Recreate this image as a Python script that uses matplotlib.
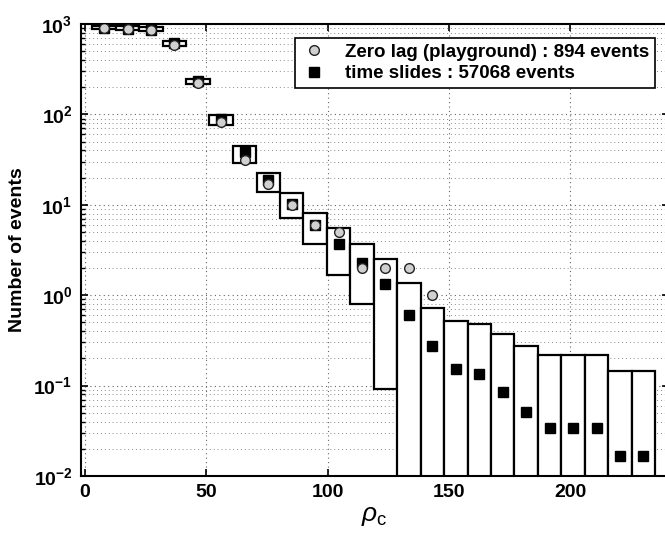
import numpy as np
import matplotlib.pyplot as plt
from matplotlib.ticker import LogLocator, FixedLocator, FuncFormatter

plt.rcParams['font.family'] = ['Liberation Sans', 'DejaVu Sans']
plt.rcParams['mathtext.fontset'] = 'custom'
plt.rcParams['mathtext.rm'] = 'Liberation Sans'
plt.rcParams['mathtext.bf'] = 'Liberation Sans:bold'
plt.rcParams['mathtext.it'] = 'Liberation Sans:italic'

# bin centres in rho_c (cumulative counts, events above each value)
rho_bins = [7.8, 17.5, 27.1, 36.8, 46.5, 56.1, 65.8, 75.5, 85.1, 94.8, 104.5, 114.1,
            123.8, 133.5, 143.1, 152.8, 162.5, 172.1, 181.8, 191.5, 201.1, 210.8,
            220.5, 230.1]
bin_width = 9.67

# zero lag (playground) counts, only first bins have events
zero_lag = [894, 880, 852, 586, 221, 83, 31, 17, 10, 6, 5, 2, 2, 2, 1]

# time slides: mean and the spread shown by the boxes
slides_mean = [894, 880, 858, 610, 232, 88, 38.6, 18.8, 10.2, 6.0, 3.7, 2.25,
               1.33, 0.60, 0.274, 0.153, 0.133, 0.086, 0.051, 0.034, 0.034, 0.034,
               0.0168, 0.0168]
slides_high = [960, 950, 920, 649, 246, 99, 44.7, 22.3, 13.6, 8.2, 5.6, 3.7,
               2.5, 1.37, 0.73, 0.52, 0.48, 0.372, 0.274, 0.218, 0.218, 0.218,
               0.146, 0.146]
slides_low = [870, 860, 830, 575, 217, 76, 29.2, 14.0, 7.1, 3.68, 1.67, 0.80,
              0.091, 0, 0, 0, 0, 0, 0, 0, 0, 0, 0, 0]

fig = plt.figure(figsize=(6.65, 5.41), dpi=100)
ax = fig.add_axes([0.1214, 0.1201, 0.884, 0.8355])
ax.set_yscale('log')

x = np.array(rho_bins)
low = np.array(slides_low, dtype=float)
high = np.array(slides_high, dtype=float)
low = np.where(low > 0, low, 1e-3)  # boxes whose lower edge is below zero run off the axis

ax.bar(x, high - low, width=bin_width, bottom=low, color='white',
       edgecolor='black', linewidth=1.6, zorder=2)

ax.plot(x, slides_mean, 's', color='black', markersize=7, zorder=3,
        label='time slides : 57068 events')
ax.plot(x[:len(zero_lag)], zero_lag, 'o', markerfacecolor='#d0d0d0',
        markeredgecolor='#222222', markeredgewidth=1.0, markersize=7, zorder=4,
        label='Zero lag (playground) : 894 events')

ax.set_xlim(-1.8, 240.5)
ax.set_ylim(1e-2, 1e3)

ax.xaxis.set_major_locator(FixedLocator([0, 50, 100, 150, 200]))
ax.yaxis.set_major_locator(LogLocator(base=10, numticks=10))
ax.yaxis.set_minor_locator(LogLocator(base=10, subs=np.arange(2, 10), numticks=20))
ax.yaxis.set_major_formatter(FuncFormatter(
    lambda v, p: r'$\mathbf{10^{%d}}$' % int(round(np.log10(v)))))

ax.grid(True, which='major', axis='both', linestyle=(0, (1, 3)), color='#666666', linewidth=0.8)
ax.grid(True, which='minor', axis='y', linestyle=(0, (1, 3)), color='#888888', linewidth=0.7)
ax.set_axisbelow(True)

ax.tick_params(which='both', direction='in', top=True, right=True)
ax.tick_params(which='major', length=5, width=1.2, labelsize=14, pad=6)
ax.tick_params(which='minor', length=3, width=1.0)
for lab in ax.get_xticklabels():
    lab.set_fontweight('bold')
for s in ax.spines.values():
    s.set_linewidth(1.5)

ax.set_ylabel('Number of events', fontsize=14, fontweight='bold', labelpad=5)
ax.set_xlabel(r'$\rho_{\mathrm{c}}$', fontsize=19, labelpad=2)

handles, labels = ax.get_legend_handles_labels()
leg = ax.legend(handles[::-1], labels[::-1], loc='upper right',
                bbox_to_anchor=(0.993, 0.99), fancybox=False, framealpha=1,
                edgecolor='black', handletextpad=0.9, borderpad=0.3,
                labelspacing=0.25, handlelength=1.5,
                prop={'size': 13.5, 'weight': 'bold'})
leg.get_frame().set_linewidth(1.2)

fig.savefig('out.png', dpi=100)
